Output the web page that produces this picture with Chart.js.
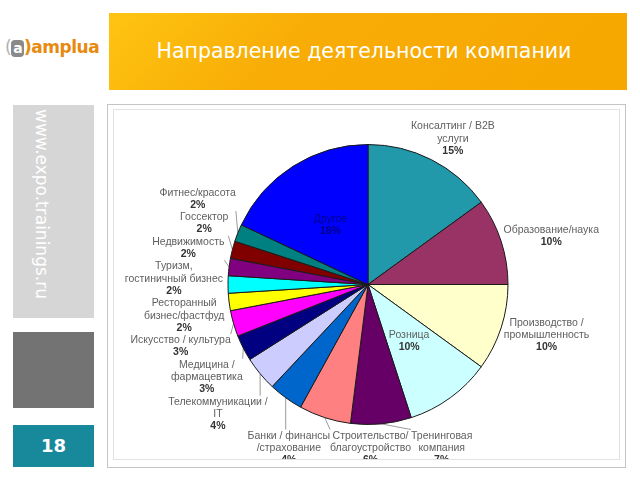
<!DOCTYPE html>
<html>
<head>
<meta charset="utf-8">
<script src="https://cdn.jsdelivr.net/npm/chart.js@4/dist/chart.umd.min.js"></script>
<style>
  body { margin: 0; width: 640px; height: 480px; background: #fff; position: relative; overflow: hidden; font-family: "DejaVu Sans", Verdana, sans-serif; }
  .logo { position: absolute; left: 5px; top: 37px; font: bold 17px "DejaVu Sans", sans-serif; letter-spacing: -0.5px; }
  .logo .br { color: #b0b0b0; font-weight: normal; }
  .logo .a { display: inline-block; background: #8a8a8a; color: #fff; border-radius: 4px; padding: 0 2px; line-height: 17px; font-size: 14px; }
  .logo .name { color: #e88a10; }
  .header { position: absolute; left: 109px; top: 13px; width: 518px; height: 77px; background: linear-gradient(135deg, #ffc412 0%, #f8ad06 35%, #f6a700 100%); }
  .header h1 { margin: 0; color: #fff; font: normal 20.5px "DejaVu Sans", sans-serif; text-align: center; line-height: 77px; padding-right: 8px; }
  .side1 { position: absolute; left: 13px; top: 105px; width: 81px; height: 213px; background: #d6d6d6; }
  .side1 span { position: absolute; left: 39px; top: 4px; transform-origin: 0 0; transform: rotate(90deg); color: #fff; font: 17px "DejaVu Sans", sans-serif; white-space: nowrap; }
  .side2 { position: absolute; left: 13px; top: 332px; width: 81px; height: 76px; background: #737373; }
  .side3 { position: absolute; left: 13px; top: 425px; width: 81px; height: 42px; background: #17899b; color: #fff; font: bold 18px "DejaVu Sans", sans-serif; text-align: center; line-height: 42px; }
  .frame { position: absolute; left: 107px; top: 104px; width: 517px; height: 362px; border: 1px solid #c4c4c4; }
  .box { position: absolute; left: 113px; top: 109px; width: 507px; height: 351px; border: 1px solid #e2e2e2; box-sizing: border-box; }
</style>
</head>
<body>
<div class="logo"><span class="br">(</span><span class="a">a</span><span class="name">)amplua</span></div>
<div class="header"><h1>Направление деятельности компании</h1></div>
<div class="side1"><span>www.expo.trainings.ru</span></div>
<div class="side2"></div>
<div class="side3">18</div>
<div class="frame"></div>
<div class="box"><canvas id="pie"></canvas></div>
<script>
// Categories (line breaks as wrapped on the slide) and shares in %
const categories = [
    "Консалтинг / B2B\nуслуги",
    "Образование/наука",
    "Производство /\nпромышленность",
    "Розница",
    "Тренинговая\nкомпания",
    "Строительство/\nблагоустройство",
    "Банки / финансы\n/страхование",
    "Телекоммуникации /\nIT",
    "Медицина /\nфармацевтика",
    "Искусство / культура",
    "Ресторанный\nбизнес/фастфуд",
    "Туризм,\nгостиничный бизнес",
    "Недвижимость",
    "Госсектор",
    "Фитнес/красота",
    "Другое"
];
const shares = [15, 10, 10, 10, 7, 6, 4, 4, 3, 3, 2, 2, 2, 2, 2, 18];
const colors = ['#2299aa', '#993366', '#ffffcc', '#ccffff', '#660066', '#ff8080', '#0066cc', '#ccccff',
                '#000080', '#ff00ff', '#ffff00', '#00ffff', '#800080', '#800000', '#008080', '#0000ff'];
// labels written inside their slice
const insideLabels = ["Розница", "Другое"];

const NAME_FONT = '10.5px "Liberation Sans", Arial, sans-serif';
const PCT_FONT = 'bold 10.5px "Liberation Sans", Arial, sans-serif';
const LH = 12.3;
const GAP = 5;

// pack items along one axis: keep order, no overlap, each cluster centred on its ideal positions
function spread(items) {
    let groups = items.map(it => ({ items: [it] }));
    const place = g => {
        let off = 0, sum = 0;
        g.items.forEach(it => { sum += it.ideal - (off + it.size / 2); off += it.size; });
        g.start = sum / g.items.length;
        g.end = g.start + off;
    };
    groups.forEach(place);
    let merged = true;
    while (merged) {
        merged = false;
        for (let i = 0; i < groups.length - 1; i++) {
            if (groups[i].end > groups[i + 1].start) {
                groups[i].items = groups[i].items.concat(groups[i + 1].items);
                groups.splice(i + 1, 1);
                place(groups[i]);
                merged = true;
                break;
            }
        }
    }
    groups.forEach(g => {
        let off = g.start;
        g.items.forEach(it => { it.pos = off + it.size / 2; off += it.size; });
    });
}

function layout(chart) {
    const ctx = chart.ctx;
    const arcs = chart.getDatasetMeta(0).data;
    const items = arcs.map((arc, i) => {
        const lines = categories[i].split('\n');
        const pct = shares[i] + '%';
        ctx.font = NAME_FONT;
        let w = Math.max(...lines.map(t => ctx.measureText(t).width));
        ctx.font = PCT_FONT;
        w = Math.max(w, ctx.measureText(pct).width);
        const h = (lines.length + 1) * LH;
        const mid = (arc.startAngle + arc.endAngle) / 2;
        const dx = Math.cos(mid), dy = Math.sin(mid);
        const deg = ((mid * 180 / Math.PI) + 90 + 720) % 360;
        const R = arc.outerRadius;
        const it = { arc, lines, pct, w, h, dx, dy, deg, R, cx: 0, cy: 0, inside: false };
        if (insideLabels.includes(categories[i])) {
            it.inside = true;
            it.cx = arc.x + dx * R * 0.5;
            it.cy = arc.y + dy * R * 0.5;
        } else {
            it.cx = arc.x + dx * (R + GAP) + dx * w / 2;
            it.cy = arc.y + dy * (R + GAP) + dy * h / 2;
        }
        return it;
    });
    const outside = items.filter(it => !it.inside);
    // bottom row, centred under the pie
    const bottom = outside.filter(it => it.deg >= 160 && it.deg <= 220)
        .sort((a, b) => b.deg - a.deg);
    if (bottom.length) {
        const total = bottom.reduce((s, it) => s + it.w, 0);
        let x = arcs[0].x - 8 - total / 2;
        bottom.forEach(it => {
            it.cx = x + it.w / 2; x += it.w;
            it.cy = arcs[0].y + it.R + GAP + it.h / 2;
        });
    }
    // left column, stacked vertically
    const left = outside.filter(it => it.deg > 220 && it.deg < 340).sort((a, b) => a.cy - b.cy);
    left.forEach(it => { it.ideal = it.cy; it.size = it.h; });
    spread(left);
    left.forEach(it => { it.cy = it.pos; });
    return items;
}

function drawText(ctx, it, nameColor, pctColor) {
    ctx.textAlign = 'center';
    ctx.textBaseline = 'middle';
    let y = it.cy - it.h / 2 + LH / 2;
    ctx.font = NAME_FONT;
    ctx.fillStyle = nameColor;
    it.lines.forEach(t => { ctx.fillText(t, it.cx, y); y += LH; });
    ctx.font = PCT_FONT;
    ctx.fillStyle = pctColor;
    ctx.fillText(it.pct, it.cx, y);
}

const pieLabels = {
    id: 'pieLabels',
    beforeDatasetsDraw(chart) {
        const ctx = chart.ctx;
        chart.$labels = layout(chart);
        ctx.save();
        chart.$labels.filter(it => !it.inside).forEach(it => {
            const px = it.arc.x + it.dx * it.R, py = it.arc.y + it.dy * it.R;
            const qx = Math.min(Math.max(px, it.cx - it.w / 2), it.cx + it.w / 2);
            const qy = Math.min(Math.max(py, it.cy - it.h / 2), it.cy + it.h / 2);
            if (Math.hypot(qx - px, qy - py) > 6) {
                ctx.strokeStyle = '#9a9a9a';
                ctx.lineWidth = 1;
                ctx.beginPath();
                ctx.moveTo(px, py);
                ctx.lineTo(qx, qy);
                ctx.stroke();
            }
            drawText(ctx, it, '#606060', '#333333');
        });
        ctx.restore();
    },
    afterDatasetsDraw(chart) {
        const ctx = chart.ctx;
        ctx.save();
        chart.$labels.filter(it => it.inside).forEach(it => {
            const dark = it.arc.options.backgroundColor === '#0000ff';
            drawText(ctx, it, dark ? '#000088' : '#606060', dark ? '#000088' : '#333333');
        });
        ctx.restore();
    }
};

new Chart(document.getElementById('pie').getContext('2d'), {
    type: 'pie',
    data: {
        labels: categories,
        datasets: [{
            data: shares,
            backgroundColor: colors,
            borderColor: '#1a1a1a',
            borderWidth: 1,
            hoverOffset: 0
        }]
    },
    options: {
        responsive: true,
        maintainAspectRatio: false,
        animation: false,
        layout: { padding: { top: 34, bottom: 34, left: 50, right: 47 } },
        plugins: { legend: { display: false }, tooltip: { enabled: false } }
    },
    plugins: [pieLabels]
});
</script>
</body>
</html>
